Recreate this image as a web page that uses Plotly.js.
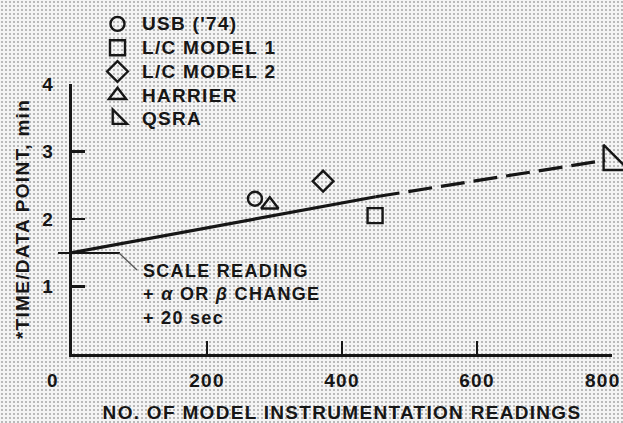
<!DOCTYPE html>
<html>
<head>
<meta charset="utf-8">
<script src="https://cdn.plot.ly/plotly-3.0.1.min.js"></script>
<style>
  html, body { margin: 0; padding: 0; }
  body {
    width: 623px; height: 423px; overflow: hidden;
    background-color: #f4f4f4;
    background-image: radial-gradient(circle, #b8b8b8 0.7px, rgba(0,0,0,0) 1.1px);
    background-size: 4px 4px;
  }
  #chart { width: 623px; height: 423px; }
  svg text { letter-spacing: 1.3px; }
  svg text.legendtext { font-size: 19px !important; }
</style>
</head>
<body>
<div id="chart"></div>
<script>
// ---- data ----
const seriesNames = ["USB ('74)", "L/C MODEL 1", "L/C MODEL 2", "HARRIER", "QSRA"];
const readingsX   = [271, 449, 372, 293, 800];       // no. of model instrumentation readings
const timeY       = [2.30, 2.05, 2.56, 2.21, 2.85];  // time per data point, min
const fitSolidX   = [0, 450];
const fitSolidY   = [1.50, 2.33];
const fitDashX    = [450, 790];
const fitDashY    = [2.33, 2.87];
const xTickVals   = [200, 400, 600, 800];
const xTickText   = ["200", "400", "600", ""];   // "0" and "800" are set off their ticks, as in the original
const yTickVals   = [1, 2, 3, 4];

const symbols = ["circle-open", "square-open", "diamond-open", "triangle-up-open", "triangle-sw-open"];
const sizes   = [14, 15, 16, 15, 28];

const ink = "#161616";
const FONT = "Liberation Sans, Arial, sans-serif";

const traces = [];
traces.push({x: fitSolidX, y: fitSolidY, mode: "lines", type: "scatter",
  line: {color: ink, width: 3.2}, showlegend: false, hoverinfo: "skip"});
traces.push({x: fitDashX, y: fitDashY, mode: "lines", type: "scatter",
  line: {color: ink, width: 3.2, dash: "24px,9px"}, showlegend: false, hoverinfo: "skip"});
seriesNames.forEach((n, i) => {
  traces.push({
    x: [readingsX[i]], y: [timeY[i]], name: n, mode: "markers", type: "scatter",
    marker: {symbol: symbols[i], size: sizes[i], color: ink, line: {color: ink, width: 2.4}},
    cliponaxis: false
  });
});

const P = (px) => (px - 72) / 540;      // pixel x -> paper x
const Q = (py) => (354 - py) / 270;     // pixel y -> paper y

const tf = {family: FONT, size: 19, color: ink, weight: "bold"};

const layout = {
  width: 623, height: 423,
  margin: {l: 72, r: 11, t: 84, b: 69, autoexpand: false},
  paper_bgcolor: "rgba(0,0,0,0)",
  plot_bgcolor: "rgba(0,0,0,0)",
  font: {family: FONT, size: 18, color: ink, weight: "bold"},
  showlegend: true,
  legend: {
    x: P(93), y: Q(7), xanchor: "left", yanchor: "top",
    itemwidth: 39,
    bgcolor: "rgba(0,0,0,0)", font: {family: FONT, size: 16, color: ink, weight: "bold"},
    tracegroupgap: 0, itemclick: false
  },
  xaxis: {
    range: [0, 800], showgrid: false, zeroline: false,
    showline: true, linecolor: ink, linewidth: 3,
    ticks: "inside", ticklen: 13, tickwidth: 2.5, tickcolor: ink,
    tickvals: xTickVals, ticktext: xTickText,
    ticklabeloverflow: "allow", ticklabelstandoff: 7,
    tickfont: tf,
    title: {text: "NO. OF MODEL INSTRUMENTATION READINGS", font: tf, standoff: 16},
    fixedrange: true
  },
  yaxis: {
    range: [0, 4], showgrid: false, zeroline: false,
    showline: true, linecolor: ink, linewidth: 3,
    ticks: "inside", ticklen: 13, tickwidth: 2.5, tickcolor: ink,
    tickvals: yTickVals, ticktext: yTickVals.map(String),
    ticklabelstandoff: 11,
    tickfont: tf,
    title: {text: "*TIME/DATA POINT, min", font: tf, standoff: 8},
    fixedrange: true
  },
  annotations: [
    {xref: "paper", yref: "paper", x: P(53), y: Q(380), text: "0", showarrow: false,
     xanchor: "center", yanchor: "middle", font: tf},
    {xref: "paper", yref: "paper", x: P(603), y: Q(380), text: "800", showarrow: false,
     xanchor: "center", yanchor: "middle", font: tf},
    {xref: "paper", yref: "paper", x: P(141), y: Q(259), text: "SCALE READING<br>+ <i>α</i> OR <i>β</i> CHANGE<br>+ 20 sec",
     showarrow: false, xanchor: "left", yanchor: "top", align: "left",
     font: {family: FONT, size: 18, color: ink, weight: "bold"}}
  ],
  shapes: [
    {type: "path", xref: "paper", yref: "paper",
     path: `M ${P(58)} ${Q(253)} L ${P(120)} ${Q(253)}`,
     line: {color: ink, width: 2}},
    {type: "path", xref: "paper", yref: "paper",
     path: `M ${P(119)} ${Q(253)} L ${P(137)} ${Q(270)}`,
     line: {color: "#555", width: 1.3}}
  ]
};

Plotly.newPlot("chart", traces, layout, {staticPlot: true, displayModeBar: false});
</script>
</body>
</html>
